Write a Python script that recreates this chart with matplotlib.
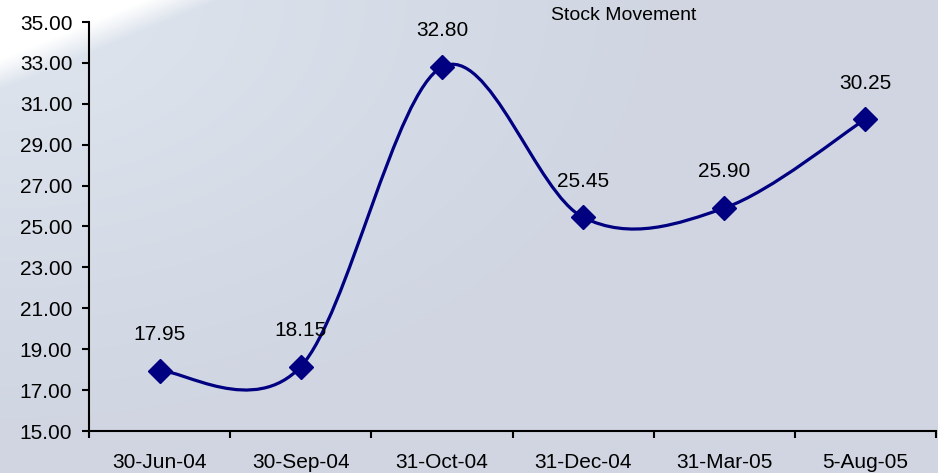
import matplotlib
matplotlib.use("Agg")
import matplotlib.pyplot as plt
import numpy as np
from matplotlib.path import Path
from matplotlib.patches import PathPatch

plt.rcParams.update({
    "font.family": ["Liberation Sans", "DejaVu Sans"],
    "font.size": 15,
})

dates = ["30-Jun-04", "30-Sep-04", "31-Oct-04", "31-Dec-04", "31-Mar-05", "5-Aug-05"]
prices = [17.95, 18.15, 32.80, 25.45, 25.90, 30.25]
y_ticks = [15, 17, 19, 21, 23, 25, 27, 29, 31, 33, 35]

W, H = 938, 473
fig = plt.figure(figsize=(W / 100, H / 100), dpi=100)

# background: white top-left corner, light blue wash, a bit greyer to the right
bg = fig.add_axes([0, 0, 1, 1], zorder=-10)
px, py = np.meshgrid(np.arange(W), np.arange(H))
grey = np.array([0.816, 0.839, 0.886])
light = np.array([0.875, 0.902, 0.937])
white = np.array([1.0, 1.0, 1.0])
t = np.clip(1.0 - np.hypot(px / 650, py / 420), 0, 1)[..., None]
img = grey + (light - grey) * t
corner = np.clip((1.0 - (px / 220 + py / 90)) * 3.0, 0, 1)[..., None]
img = img + (white - img) * corner
bg.imshow(img, aspect="auto", extent=[0, 1, 1, 0])
bg.set_axis_off()

ax = fig.add_axes([89 / W, 42 / H, 847 / W, 409 / H])
ax.patch.set_alpha(0)

x = np.arange(len(prices))
y = np.array(prices)

# smoothed line, spreadsheet style bezier through the points
pts = np.column_stack([x, y])
ext = np.vstack([pts[0], pts, pts[-1]])
verts = [tuple(pts[0])]
codes = [Path.MOVETO]
for i in range(len(pts) - 1):
    p0, p1, p2, p3 = ext[i], ext[i + 1], ext[i + 2], ext[i + 3]
    c1 = p1 + (p2 - p0) / 6
    c2 = p2 - (p3 - p1) / 6
    verts += [tuple(c1), tuple(c2), tuple(p2)]
    codes += [Path.CURVE4] * 3
ax.add_patch(PathPatch(Path(verts, codes), facecolor="none", edgecolor="#000080",
                       lw=2.3, zorder=3, capstyle="round", joinstyle="round"))
ax.plot(x, y, linestyle="none", marker="D", markersize=12.5, color="#000080", zorder=4)

for xi, yi in zip(x, y):
    ax.annotate(f"{yi:.2f}", (xi, yi), xytext=(0, 26), textcoords="offset points",
                ha="center", va="center", fontsize=15)

ax.set_xlim(-0.5, len(prices) - 0.5)
ax.set_ylim(15, 35)
ax.set_yticks(y_ticks)
ax.set_yticklabels([f"{v:.2f}" for v in y_ticks])
ax.set_xticks(np.arange(len(prices) + 1) - 0.5)
ax.set_xticklabels([])
ax.set_xticks(x, minor=True)
ax.set_xticklabels(dates, minor=True)
ax.tick_params(axis="x", which="major", direction="out", length=5, width=1.5)
ax.tick_params(axis="x", which="minor", length=0, pad=15.5)
ax.tick_params(axis="y", direction="out", length=5, width=1.5, pad=7)
for s in ["top", "right"]:
    ax.spines[s].set_visible(False)
for s in ["left", "bottom"]:
    ax.spines[s].set_linewidth(1.5)

fig.text(624 / W, 1 - 15 / H, "Stock Movement", ha="center", va="center", fontsize=14)

plt.savefig("out.png", dpi=100)
plt.close()
